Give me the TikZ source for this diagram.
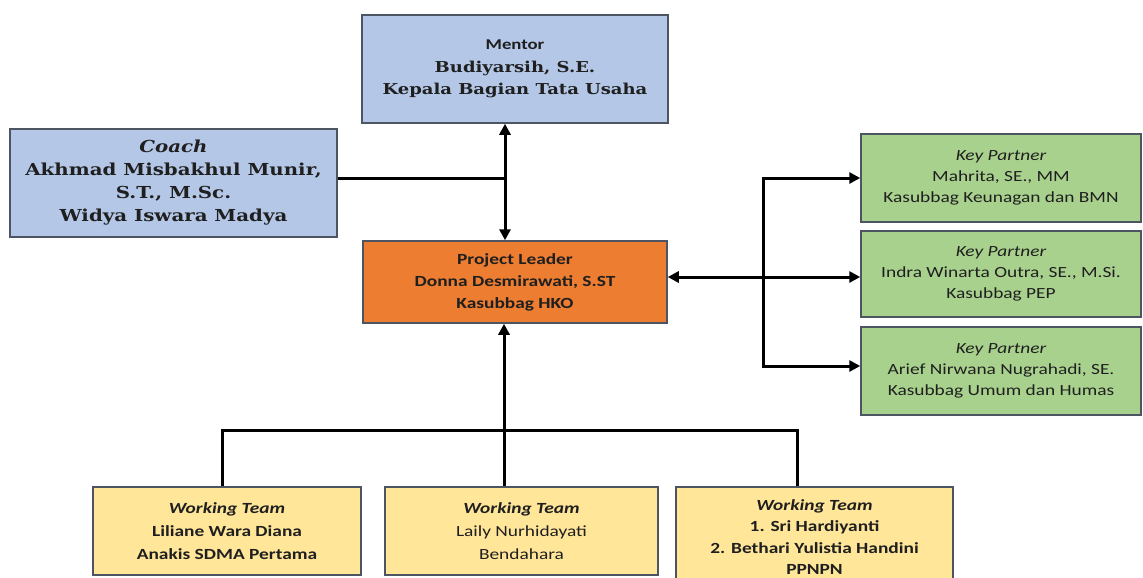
\documentclass[tikz,border=0pt]{standalone}
\usepackage{fontspec}
\setmainfont{Carlito}[FakeStretch=1.25]
\newfontfamily\slabfont{DejaVu Serif}[FakeStretch=1.2]
\usetikzlibrary{
  arrows.meta,
  positioning,
  calc
}
\usepackage{xcolor}
\definecolor{lightBlue}{rgb}{0.70588,0.78039,0.90588}
\definecolor{darkOrange}{rgb}{0.92941,0.49020,0.19216}
\definecolor{lightGreen}{rgb}{0.66275,0.81961,0.55686}
\definecolor{lightYellow}{rgb}{1.0,0.90196,0.6}
\definecolor{boxGrey}{rgb}{0.30196,0.33333,0.38824}
\tikzset{
  orgbox/.style={
    draw=boxGrey,
    line width=1.5pt,
    align=center,
    inner sep=2pt,
    text=black!88
  },
  link/.style={
    line width=3pt,
    black
  }
}

\begin{document}
\begin{tikzpicture}[
      x=1pt, y=-1pt,
      tip/.tip={Triangle[length=11pt,width=11pt]}
      ]
      \useasboundingbox (0,0) rectangle (1143,578);
      \clip (0,0) rectangle (1143,578);

      \node[orgbox, fill=lightBlue, minimum width=306pt, minimum height=108pt,
        font=\fontsize{15}{22.5}\selectfont] (mentor) at (515,69)
        {{\bfseries Mentor}\\
         {\slabfont\bfseries Budiyarsih, S.E.}\\
         {\slabfont\bfseries Kepala Bagian Tata Usaha}};

      \node[orgbox, fill=lightBlue, minimum width=327pt, minimum height=108pt,
        font=\slabfont\bfseries\fontsize{16.5}{23}\selectfont] (coach) at (173.5,183)
        {{\itshape Coach}\\
         Akhmad Misbakhul Munir,\\
         S.T., M.Sc.\\
         Widya Iswara Madya};

      \node[orgbox, fill=darkOrange, minimum width=304pt, minimum height=82pt,
        font=\bfseries\fontsize{15.5}{22}\selectfont] (leader) at (515,282)
        {Project Leader\\
         Donna Desmirawati, S.ST\\
         Kasubbag HKO};

      % key partners on the right
      \foreach \n/\y/\h/\who/\job in {
          kpA/178/88/{Mahrita, SE., MM}/{Kasubbag Keunagan dan BMN},
          kpB/274/86/{Indra Winarta Outra, SE., M.Si.}/{Kasubbag PEP},
          kpC/371/88/{Arief Nirwana Nugrahadi, SE.}/{Kasubbag Umum dan Humas}}{
        \node[orgbox, fill=lightGreen, minimum width=280pt, minimum height=\h pt,
          font=\fontsize{15.5}{21}\selectfont] (\n) at (1001,\y)
          {{\itshape Key Partner}\\ \who\\ \job};
      }

      % working teams at the bottom
      \node[orgbox, fill=lightYellow, minimum width=268pt, minimum height=88pt,
        font=\bfseries\fontsize{15.5}{23}\selectfont] (wtA) at (227,531)
        {{\itshape Working Team}\\
         Liliane Wara Diana\\
         Anakis SDMA Pertama};
      \node[orgbox, fill=lightYellow, minimum width=273pt, minimum height=88pt,
        font=\fontsize{15.5}{23}\selectfont] (wtB) at (521.5,531)
        {{\bfseries\itshape Working Team}\\
         Laily Nurhidayati\\
         Bendahara};
      \node[orgbox, fill=lightYellow, minimum width=277pt, minimum height=100pt,
        font=\bfseries\fontsize{15.5}{21.5}\selectfont] (wtC) at (814.5,537)
        {{\itshape Working Team}\\
         1. Sri Hardiyanti\\
         2. Bethari Yulistia Handini\\
         PPNPN};

      \coordinate (mid) at ([xshift=-10pt]mentor.south);
      \coordinate (bus) at (763,277);
      \coordinate (tbar) at (504,430);

      \draw[link, tip-tip] (mid) -- (mid |- leader.north);
      \draw[link] ([yshift=5pt]coach.east) -- ([yshift=5pt]coach.east -| mid);

      \draw[link, tip-tip] ([yshift=5pt]leader.east) -- ([yshift=5pt]leader.east -| kpB.west);
      \draw[link, tip-tip] (kpA.west) -- (kpA.west -| bus)
        -- ([yshift=5pt]kpC.west -| bus) -- ([yshift=5pt]kpC.west);

      \draw[link, -tip] (wtB.north -| tbar) -- (leader.south -| tbar);
      \draw[link] ([xshift=-5pt]wtA.north) |- (tbar) -| ([xshift=-17pt]wtC.north);
    \end{tikzpicture}
\end{document}
